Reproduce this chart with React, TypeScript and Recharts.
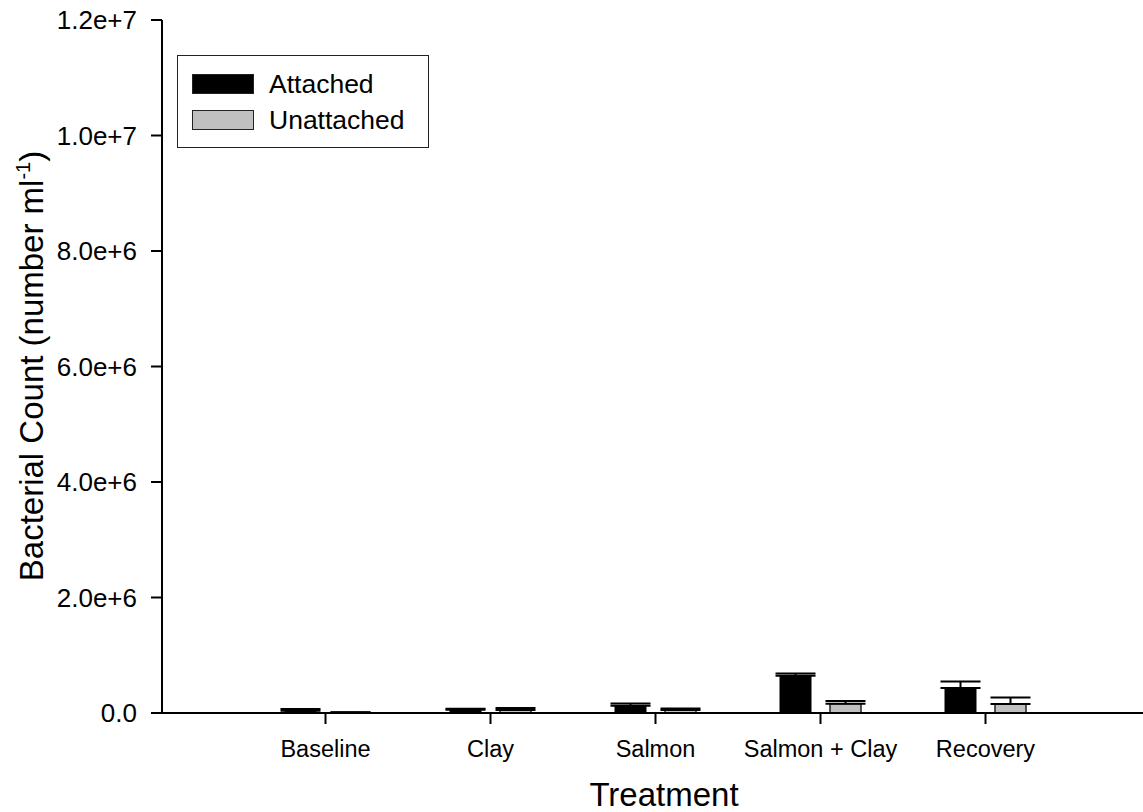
import { BarChart, Bar, XAxis, YAxis, ErrorBar, Legend } from 'recharts';

const categories = ['Baseline', 'Clay', 'Salmon', 'Salmon + Clay', 'Recovery'];
const attached = [40000, 57000, 126000, 646000, 433000];
const attachedErr = [29000, 18000, 40000, 40000, 114000];
const unattached = [8000, 50000, 52000, 161000, 156000];
const unattachedErr = [5000, 36000, 28000, 47000, 114000];
const yTicks = [0, 2e6, 4e6, 6e6, 8e6, 1e7, 1.2e7];

const FONT = '"Liberation Sans", Arial, Helvetica, sans-serif';

const chartData = categories.map((name, i) => ({
    name,
    attached: attached[i],
    attachedErr: [0, attachedErr[i]],
    unattached: unattached[i],
    unattachedErr: [0, unattachedErr[i]],
}));

const formatTick = (v: number) => (v === 0 ? '0.0' : v.toExponential(1));

function LegendBox({ payload }: any) {
    return (
        <div style={{
            boxSizing: 'border-box',
            border: '1.5px solid #222',
            background: '#fff',
            padding: '10px 14px',
            width: 252,
            height: 93,
            fontFamily: FONT,
            fontSize: 26.5,
            color: '#000',
        }}>
            {(payload || []).map((p: any) => (
                <div key={p.value} style={{ display: 'flex', alignItems: 'center', height: 36 }}>
                    <span style={{
                        boxSizing: 'border-box',
                        display: 'inline-block',
                        width: 62,
                        height: 20,
                        background: p.color,
                        border: '1.5px solid #222',
                        marginRight: 15,
                    }} />
                    <span>{p.value}</span>
                </div>
            ))}
        </div>
    );
}

export default function App() {
    return (
        <div style={{ width: 1143, height: 812, background: '#fff', overflow: 'hidden' }}>
            <style>{'body{margin:0;overflow:hidden}'}</style>
            <BarChart
                width={1143}
                height={812}
                data={chartData}
                margin={{ top: 20, right: 0, left: 0, bottom: 0 }}
                barSize={31}
                barGap={19}
            >
                <XAxis
                    dataKey="name"
                    height={99}
                    padding={{ left: 81, right: 75 }}
                    axisLine={{ stroke: '#000', strokeWidth: 2 }}
                    tickLine={{ stroke: '#000', strokeWidth: 2 }}
                    tickSize={11}
                    tickMargin={16}
                    tick={{ fill: '#000', fontSize: 23.5, fontFamily: FONT }}
                    interval={0}
                    label={{
                        content: () => (
                            <text x={664} y={806} textAnchor="middle" fontSize={33} fontFamily={FONT} fill="#000">
                                Treatment
                            </text>
                        ),
                    }}
                />
                <YAxis
                    width={162}
                    domain={[0, 1.2e7]}
                    ticks={yTicks}
                    tickFormatter={formatTick}
                    axisLine={{ stroke: '#000', strokeWidth: 2 }}
                    tickLine={{ stroke: '#000', strokeWidth: 2 }}
                    tickSize={11}
                    tickMargin={14}
                    tick={{ fill: '#000', fontSize: 26, fontFamily: FONT }}
                    label={{
                        content: () => (
                            <text
                                x={43}
                                y={366}
                                transform="rotate(-90 43 366)"
                                textAnchor="middle"
                                fontSize={33}
                                fontFamily={FONT}
                                fill="#000"
                            >
                                Bacterial Count (number ml
                                <tspan dy={-13} fontSize={20}>-1</tspan>
                                <tspan dy={13}>)</tspan>
                            </text>
                        ),
                    }}
                />
                <Legend
                    layout="horizontal"
                    verticalAlign="middle"
                    align="center"
                    wrapperStyle={{ position: 'absolute', left: 177, top: 55, width: 'auto' }}
                    content={(props: any) => <LegendBox payload={props.payload} />}
                />
                <Bar dataKey="attached" name="Attached" fill="#000" stroke="#000" isAnimationActive={false}>
                    <ErrorBar dataKey="attachedErr" width={20} stroke="#000" strokeWidth={2} isAnimationActive={false} />
                </Bar>
                <Bar dataKey="unattached" name="Unattached" fill="#c0c0c0" stroke="#222" strokeWidth={1.5} isAnimationActive={false}>
                    <ErrorBar dataKey="unattachedErr" width={20} stroke="#000" strokeWidth={2} isAnimationActive={false} />
                </Bar>
            </BarChart>
        </div>
    );
}
